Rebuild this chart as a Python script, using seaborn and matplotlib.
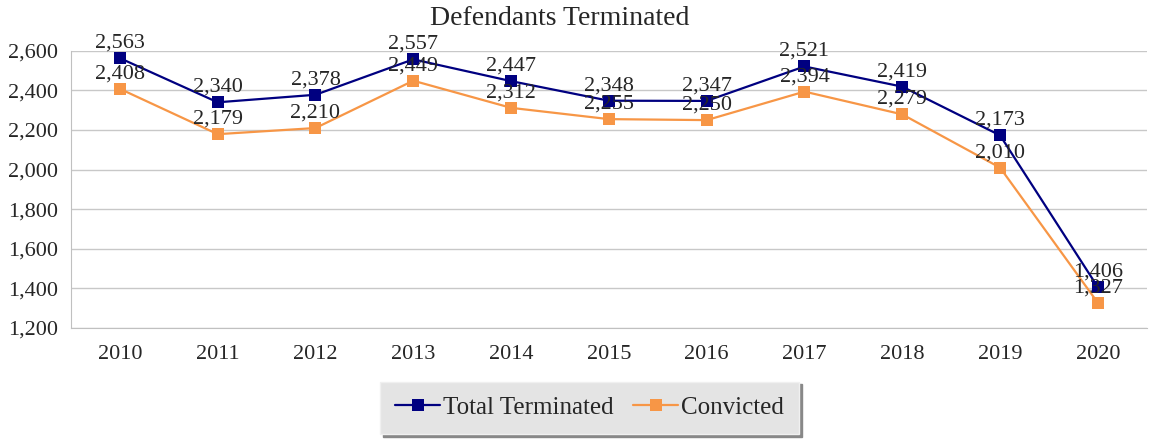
import pandas as pd
import seaborn as sns
import matplotlib.pyplot as plt

# Data
years = ['2010', '2011', '2012', '2013', '2014', '2015', '2016', '2017', '2018', '2019', '2020']
total_terminated = [2563, 2340, 2378, 2557, 2447, 2348, 2347, 2521, 2419, 2173, 1406]
convicted = [2408, 2179, 2210, 2449, 2312, 2255, 2250, 2394, 2279, 2010, 1327]

df = pd.DataFrame({'Year': years, 'Total Terminated': total_terminated, 'Convicted': convicted})
df['pos'] = range(len(years))
long_df = df.melt(id_vars=['Year', 'pos'], var_name='Series', value_name='Defendants')

sns.set_style('white')
plt.rcParams['font.family'] = ['Liberation Serif', 'DejaVu Serif']

fig = plt.figure(figsize=(11.56, 4.42), dpi=100)
ax = fig.add_axes([0.0614, 0.258, 0.9306, 0.627])

colors = {'Total Terminated': '#000080', 'Convicted': '#F79646'}
sns.lineplot(data=long_df, x='pos', y='Defendants', hue='Series', palette=colors,
             style='Series', markers={'Total Terminated': 's', 'Convicted': 's'},
             dashes=False, markersize=9, markeredgewidth=0, linewidth=1.6,
             hue_order=['Total Terminated', 'Convicted'], ax=ax, legend=True)

# data labels
for i in range(len(years)):
    ax.annotate(f'{total_terminated[i]:,}', (i, total_terminated[i]), xytext=(0, 4),
                textcoords='offset points', ha='center', va='bottom', fontsize=16)
    ax.annotate(f'{convicted[i]:,}', (i, convicted[i]), xytext=(0, 4),
                textcoords='offset points', ha='center', va='bottom', fontsize=16)

ax.set_xlim(-0.5, len(years) - 0.5)
ax.set_ylim(1200, 2600)
ax.set_xticks(range(len(years)))
ax.set_xticklabels(years, fontsize=16)
ax.set_yticks(range(1200, 2601, 200))
ax.set_yticklabels([f'{v:,}' for v in range(1200, 2601, 200)], fontsize=16)
ax.tick_params(axis='x', length=0, pad=12)
ax.tick_params(axis='y', length=0, pad=9)
ax.yaxis.grid(True, color='#c8c8c8', linewidth=1)
for s in ['top', 'right']:
    ax.spines[s].set_visible(False)
for s in ['left', 'bottom']:
    ax.spines[s].set_color('#c0c0c0')
ax.set_xlabel('')
ax.set_ylabel('')
fig.text(0.484, 0.958, 'Defendants Terminated', ha='center', va='center', fontsize=20)

ax.legend(loc='center', bbox_to_anchor=(0.51, 0.077), bbox_transform=fig.transFigure,
          ncol=2, fontsize=18, frameon=True, fancybox=False, shadow={'color': '#888888', 'alpha': 1},
          facecolor='#e4e4e4', edgecolor='#f0f0f0', handlelength=1.8, handletextpad=0.1,
          columnspacing=0.8, borderpad=0.6, borderaxespad=0, framealpha=1)

fig.savefig('out.png', dpi=100)
